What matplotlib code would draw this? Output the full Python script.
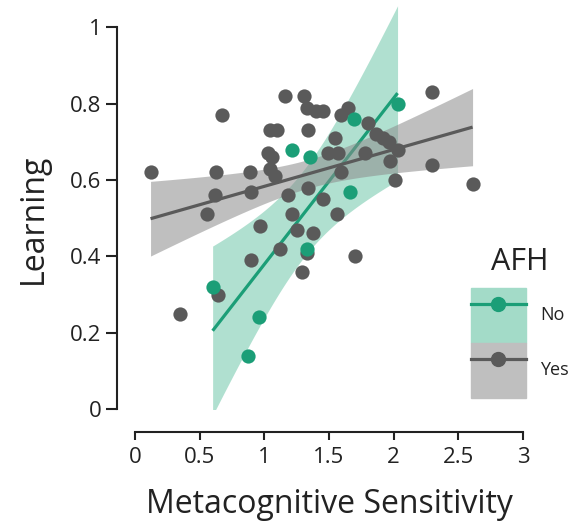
#%% IMPORT

import numpy as np
import matplotlib.pyplot as plt
from matplotlib.patches import Patch
from matplotlib.lines import Line2D
from matplotlib.legend_handler import HandlerTuple

#%% DADOS

# AFH = Yes (cinza)
yes_x = [0.12, 0.63, 0.62, 0.56, 0.67, 0.89, 0.90, 1.16, 1.31, 1.33, 1.40, 1.45, 1.34,
         1.04, 1.10, 1.03, 1.06, 1.04, 1.08, 1.59, 1.65, 1.80, 1.55, 1.86, 1.92, 1.96,
         2.03, 1.78, 1.49, 1.57, 1.97, 1.59, 2.30, 2.30, 2.01, 2.61, 1.34, 1.18, 1.45,
         1.21, 1.56, 0.97, 1.25, 1.38, 1.12, 0.90, 0.64, 1.29, 1.33, 0.35, 1.70]
yes_y = [0.62, 0.62, 0.56, 0.51, 0.77, 0.62, 0.57, 0.82, 0.82, 0.79, 0.78, 0.78, 0.73,
         0.73, 0.73, 0.67, 0.66, 0.63, 0.61, 0.77, 0.79, 0.75, 0.71, 0.72, 0.71, 0.70,
         0.68, 0.67, 0.67, 0.67, 0.65, 0.62, 0.83, 0.64, 0.60, 0.59, 0.58, 0.56, 0.55,
         0.51, 0.51, 0.48, 0.47, 0.46, 0.42, 0.39, 0.30, 0.36, 0.41, 0.25, 0.40]

# AFH = No (verde)
no_x = [0.60, 0.96, 0.87, 1.21, 1.35, 1.33, 1.66, 1.69, 2.03]
no_y = [0.32, 0.24, 0.14, 0.68, 0.66, 0.42, 0.57, 0.76, 0.80]

legend_labels = ['No', 'Yes']
x_ticks = [0, 0.5, 1, 1.5, 2, 2.5, 3]
x_ticklabels = ['0', '0.5', '1', '1.5', '2', '2.5', '3']
y_ticks = [0, 0.2, 0.4, 0.6, 0.8, 1]
y_ticklabels = ['0', '0.2', '0.4', '0.6', '0.8', '1']

# t de Student 95% (df = n - 2)
t_no = 2.365
t_yes = 2.010

verde = '#1b9e77'
verde_claro = '#a3dbc8'
cinza = '#5a5a5a'
cinza_claro = '#bfbfbf'
texto = '#222222'

plt.rcParams['font.family'] = ['Open Sans', 'DejaVu Sans']

#%% REGRESSÃO

def ajuste(x, y, t):
    x = np.array(x)
    y = np.array(y)
    n = len(x)
    b, a = np.polyfit(x, y, 1)
    res = y - (a + b*x)
    s = np.sqrt(np.sum(res**2)/(n - 2))
    sxx = np.sum((x - x.mean())**2)
    xg = np.linspace(x.min(), x.max(), 100)
    yg = a + b*xg
    se = s*np.sqrt(1/n + (xg - x.mean())**2/sxx)
    return xg, yg, yg - t*se, yg + t*se

#%% GRÁFICO

fig = plt.figure(figsize=(5.83, 5.23), dpi=100)
ax = fig.add_axes([0.2316, 0.218, 0.6655, 0.7805])

xg, yg, lo, hi = ajuste(no_x, no_y, t_no)
ax.fill_between(xg, lo, hi, color=verde_claro, alpha=0.85, lw=0, zorder=1)
ax.plot(xg, yg, color=verde, lw=2.3, zorder=2, solid_capstyle='butt')

xg, yg, lo, hi = ajuste(yes_x, yes_y, t_yes)
ax.fill_between(xg, lo, hi, color='#8c8c8c', alpha=0.55, lw=0, zorder=3)
ax.plot(xg, yg, color=cinza, lw=2.3, zorder=4, solid_capstyle='butt')

ax.scatter(yes_x, yes_y, s=105, color=cinza, lw=0, zorder=5)
ax.scatter(no_x, no_y, s=105, color=verde, lw=0, zorder=6)

ax.set_xlim(0, 3)
ax.set_ylim(0, 1.07)

for lado in ['top', 'right']:
    ax.spines[lado].set_visible(False)
ax.spines['left'].set_position(('outward', 13))
ax.spines['bottom'].set_position(('outward', 16.5))
ax.spines['left'].set_bounds(0, 1)
ax.spines['bottom'].set_bounds(0, 3)
for lado in ['left', 'bottom']:
    ax.spines[lado].set_linewidth(1.5)
    ax.spines[lado].set_color(texto)

ax.set_xticks(x_ticks)
ax.set_xticklabels(x_ticklabels)
ax.set_yticks(y_ticks)
ax.set_yticklabels(y_ticklabels)
ax.tick_params(axis='y', length=8, width=1.5, color=texto, labelsize=16, labelcolor=texto, pad=3)
ax.tick_params(axis='x', length=6, width=1.5, color=texto, labelsize=16, labelcolor=texto, pad=5)

ax.set_xlabel('Metacognitive Sensitivity', fontsize=23, color=texto, labelpad=14)
ax.set_ylabel('Learning', fontsize=23, color=texto)
ax.yaxis.set_label_coords(-0.22, 0.465)

#%% LEGENDA

handles = [(Patch(color=verde_claro), Line2D([], [], color=verde, lw=2.3, marker='o', markersize=10)),
           (Patch(color=cinza_claro), Line2D([], [], color=cinza, lw=2.3, marker='o', markersize=10))]
leg = ax.legend(handles, legend_labels, title='AFH', handler_map={tuple: HandlerTuple(ndivide=1)},
                frameon=False, numpoints=1, fontsize=13, title_fontsize=22,
                handlelength=3.0, handleheight=4.3, labelspacing=0, handletextpad=0.8,
                borderpad=0, loc='upper left', bbox_to_anchor=(0.793, 0.545),
                bbox_transform=fig.transFigure)
leg._legend_box.sep = 8
leg.get_title().set_color(texto)
for t in leg.get_texts():
    t.set_color(texto)

fig.savefig('out.png', dpi=100)
